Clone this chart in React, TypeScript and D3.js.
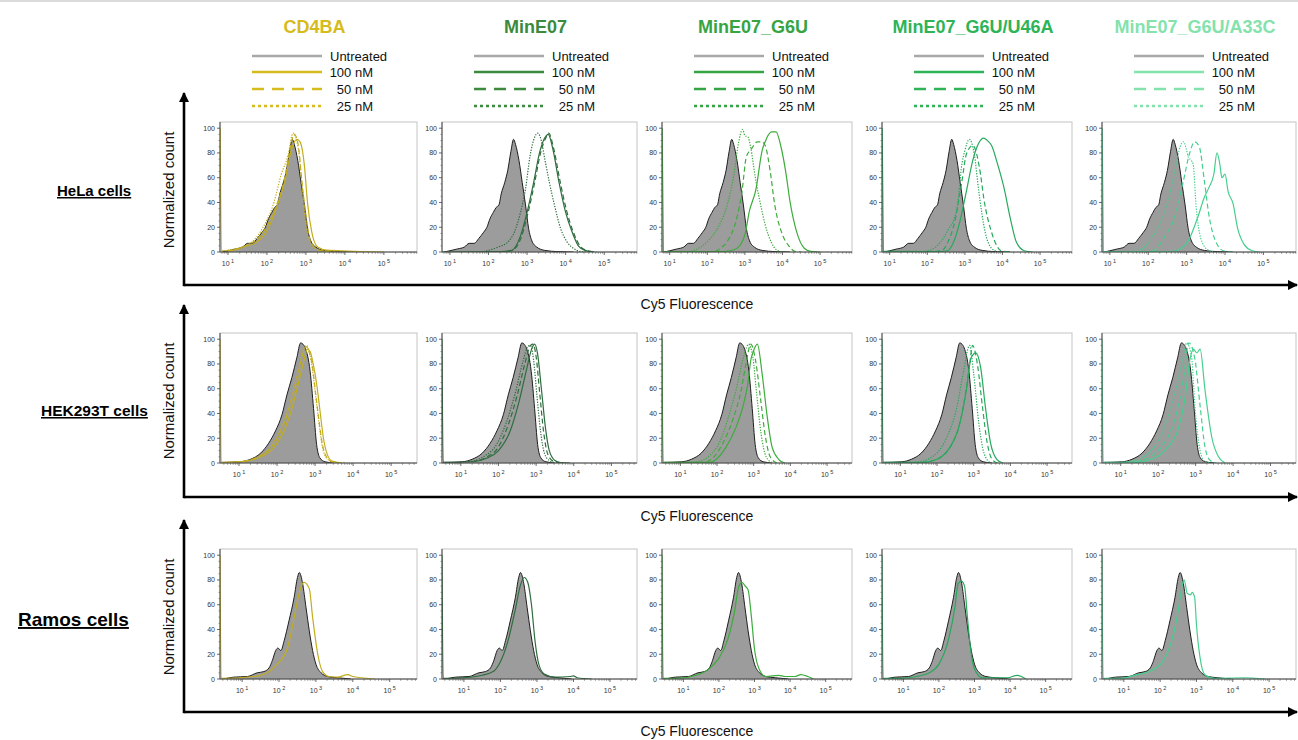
import React from "react";
import * as d3 from "d3";

type Pt = [number, number]; // [log10 Cy5 fluorescence, normalized count]

const groups = ["CD4BA", "MinE07", "MinE07_G6U", "MinE07_G6U/U46A", "MinE07_G6U/A33C"];
const titleColors = ["#d6bb1c", "#3b8a3e", "#35a443", "#2eb457", "#84e2ad"];
const curveColors = ["#c2ad1e", "#2e6e3e", "#3cac3c", "#27a95c", "#45cf8e"];
const cellLines = ["HeLa cells", "HEK293T cells", "Ramos cells"];
const doses = ["Untreated", "100 nM", "50 nM", "25 nM"];
const yTicks = [0, 20, 40, 60, 80, 100];
const decades = [1, 2, 3, 4, 5];

// ---- HeLa ----
const helaUntreated: Pt[] = [[0.85, 0], [1.0, 1], [1.2, 2.5], [1.375, 4], [1.5, 7], [1.63, 7], [1.75, 11], [1.875, 16], [1.96, 20], [2.04, 27], [2.125, 32], [2.2, 36], [2.27, 38], [2.33, 47], [2.42, 56], [2.5, 66], [2.58, 81], [2.65, 91], [2.7, 87], [2.79, 74], [2.875, 56], [2.96, 38], [3.04, 19], [3.125, 9], [3.25, 4], [3.46, 1.3], [3.8, 0.3], [4.2, 0]];
const hela_CD4BA_100: Pt[] = [[0.8, 100], [0.83, 1], [1.03, 1], [1.38, 4], [1.74, 8], [2.0, 17], [2.27, 38], [2.45, 56], [2.63, 83], [2.77, 91], [2.85, 89], [2.96, 70], [3.04, 40], [3.15, 16], [3.3, 4], [3.53, 1.5], [4.24, 0.5], [5.0, 0]];
const hela_CD4BA_50: Pt[] = [[1.0, 1], [1.47, 5], [1.9, 16], [2.27, 40], [2.45, 59], [2.58, 81], [2.7, 95], [2.8, 87], [2.9, 56], [3.0, 30], [3.12, 8], [3.35, 1.3], [3.8, 0]];
const hela_CD4BA_25: Pt[] = [[1.0, 1.5], [1.56, 7], [1.9, 20], [2.18, 40], [2.36, 62], [2.54, 78], [2.67, 96], [2.79, 86], [2.9, 54], [2.98, 27], [3.09, 9], [3.3, 2], [3.7, 0]];
const hela_MinE07_100: Pt[] = [[0.8, 0], [2.3, 0.3], [2.6, 1.3], [2.83, 13], [3.0, 32], [3.17, 56], [3.33, 81], [3.5, 94], [3.55, 95], [3.67, 83], [3.83, 56], [4.0, 32], [4.17, 16], [4.33, 5], [4.5, 1.3], [4.75, 0]];
const hela_MinE07_50: Pt[] = [[2.3, 0], [2.6, 1], [2.85, 12], [3.02, 31], [3.19, 55], [3.35, 80], [3.5, 93], [3.56, 96], [3.68, 85], [3.85, 58], [4.02, 34], [4.2, 16], [4.37, 5], [4.55, 1.2], [4.8, 0]];
const hela_MinE07_25: Pt[] = [[1.8, 0], [2.0, 1.3], [2.25, 4], [2.5, 8], [2.67, 16], [2.83, 32], [2.96, 51], [3.08, 78], [3.2, 93], [3.27, 96], [3.37, 90], [3.46, 75], [3.58, 56], [3.71, 38], [3.87, 19], [4.04, 8], [4.2, 3], [4.37, 0.5], [4.6, 0]];
const hela_G6U_100: Pt[] = [[0.8, 100], [0.83, 0.5], [2.3, 0.3], [2.6, 1], [2.79, 3], [3.0, 14], [3.12, 33], [3.29, 50], [3.46, 82], [3.58, 92], [3.71, 97], [3.83, 97], [3.96, 85], [4.08, 66], [4.21, 39], [4.37, 17], [4.58, 3], [4.75, 0.5], [5.0, 0]];
const hela_G6U_50: Pt[] = [[2.0, 0], [2.2, 0.5], [2.35, 3], [2.54, 9], [2.79, 28], [2.92, 48], [3.04, 77], [3.17, 83], [3.33, 89], [3.45, 89], [3.54, 86], [3.67, 66], [3.79, 39], [4.0, 14], [4.17, 5], [4.33, 0.5], [4.5, 0]];
const hela_G6U_25: Pt[] = [[1.5, 0], [1.87, 5], [2.05, 10], [2.29, 20], [2.54, 39], [2.71, 63], [2.83, 88], [2.94, 99], [3.0, 94], [3.08, 93], [3.15, 85], [3.29, 58], [3.42, 38], [3.54, 22], [3.7, 8], [3.83, 2], [4.0, 0]];
const hela_U46A_100: Pt[] = [[0.8, 100], [0.83, 0.5], [2.2, 0.3], [2.54, 1], [2.7, 8], [2.87, 25], [3.04, 49], [3.21, 74], [3.37, 88], [3.5, 92], [3.6, 90], [3.71, 86], [3.87, 71], [4.04, 52], [4.21, 27], [4.37, 8], [4.58, 1], [4.8, 0]];
const hela_U46A_50: Pt[] = [[2.0, 0], [2.37, 1], [2.55, 8], [2.71, 22], [2.92, 57], [3.04, 79], [3.21, 86], [3.33, 77], [3.42, 62], [3.5, 44], [3.71, 16], [3.85, 5], [3.96, 1], [4.2, 0]];
const hela_U46A_25: Pt[] = [[1.8, 0], [2.12, 2], [2.35, 8], [2.54, 17], [2.79, 35], [2.92, 71], [3.0, 82], [3.12, 91], [3.25, 79], [3.37, 49], [3.54, 16], [3.71, 3], [3.9, 0]];
const hela_A33C_100: Pt[] = [[0.8, 100], [0.83, 0.5], [2.4, 0.3], [2.71, 1], [3.04, 9], [3.29, 28], [3.46, 44], [3.58, 52], [3.71, 63], [3.79, 80], [3.86, 72], [3.92, 60], [4.0, 63], [4.08, 49], [4.21, 39], [4.33, 19], [4.5, 6], [4.71, 1], [4.9, 0]];
const hela_A33C_50: Pt[] = [[1.9, 0], [2.12, 1], [2.46, 14], [2.71, 30], [2.92, 58], [3.08, 80], [3.21, 89], [3.33, 85], [3.46, 58], [3.58, 30], [3.75, 9], [3.96, 1], [4.2, 0]];
const hela_A33C_25: Pt[] = [[1.5, 0], [1.87, 3], [2.05, 10], [2.29, 22], [2.54, 44], [2.71, 68], [2.83, 85], [2.92, 89], [3.0, 82], [3.04, 77], [3.12, 74], [3.17, 71], [3.25, 36], [3.37, 11], [3.54, 2], [3.7, 0]];

// ---- HEK293T ----
const hekUntreated: Pt[] = [[0.55, 0.5], [1.04, 1], [1.3, 3], [1.57, 8], [1.78, 16], [1.96, 26], [2.13, 39], [2.26, 55], [2.39, 69], [2.52, 85], [2.62, 97], [2.68, 96], [2.74, 93], [2.87, 74], [2.96, 44], [3.04, 15], [3.13, 4], [3.26, 1], [3.5, 0]];
const hek_CD4BA_100: Pt[] = [[0.5, 100], [0.53, 0.5], [1.0, 1], [1.5, 4], [1.9, 12], [2.2, 27], [2.4, 45], [2.55, 63], [2.7, 82], [2.8, 92], [2.87, 90], [2.95, 80], [3.05, 62], [3.13, 42], [3.22, 20], [3.32, 7], [3.45, 1.5], [3.7, 0]];
const hek_CD4BA_50: Pt[] = [[0.7, 0.5], [1.0, 1], [1.5, 5], [1.9, 15], [2.2, 33], [2.4, 52], [2.55, 70], [2.68, 88], [2.76, 94], [2.84, 90], [2.92, 80], [3.02, 55], [3.1, 35], [3.2, 14], [3.32, 4], [3.5, 0.5], [3.8, 0]];
const hek_CD4BA_25: Pt[] = [[0.7, 0.5], [1.0, 1], [1.5, 5], [1.9, 16], [2.2, 35], [2.4, 55], [2.55, 74], [2.7, 92], [2.78, 95], [2.84, 90], [2.9, 82], [3.0, 58], [3.08, 38], [3.18, 15], [3.3, 4], [3.5, 0.5], [3.8, 0]];
const hek_MinE07_100: Pt[] = [[0.5, 100], [0.53, 0.5], [1.3, 1], [1.7, 4], [2.0, 10], [2.3, 25], [2.55, 50], [2.75, 76], [2.88, 92], [2.96, 96], [3.04, 88], [3.14, 60], [3.25, 28], [3.35, 10], [3.5, 2], [3.65, 0.3], [3.9, 0]];
const hek_MinE07_50: Pt[] = [[1.3, 1], [1.7, 5], [2.0, 13], [2.25, 30], [2.5, 55], [2.7, 80], [2.85, 95], [2.92, 96], [3.0, 86], [3.1, 55], [3.2, 25], [3.3, 8], [3.45, 1.5], [3.6, 0.3]];
const hek_MinE07_25: Pt[] = [[1.2, 1], [1.6, 5], [1.95, 15], [2.2, 32], [2.45, 57], [2.65, 82], [2.78, 94], [2.85, 95], [2.93, 84], [3.02, 55], [3.12, 25], [3.22, 8], [3.35, 2], [3.5, 0.3]];
const hek_G6U_100: Pt[] = [[0.5, 100], [0.53, 0.5], [1.8, 0.5], [2.25, 13], [2.52, 29], [2.7, 45], [2.84, 64], [2.92, 83], [3.0, 91], [3.1, 96], [3.23, 72], [3.37, 37], [3.5, 13], [3.68, 3], [3.85, 0]];
const hek_G6U_50: Pt[] = [[1.5, 0.5], [1.71, 1], [2.16, 16], [2.43, 35], [2.66, 59], [2.79, 80], [2.92, 96], [3.05, 83], [3.19, 51], [3.32, 21], [3.45, 5], [3.63, 0]];
const hek_G6U_25: Pt[] = [[1.2, 0.5], [1.45, 1], [2.0, 13], [2.34, 40], [2.52, 59], [2.7, 83], [2.8, 93], [2.86, 96], [2.98, 85], [3.07, 59], [3.2, 24], [3.34, 5], [3.52, 0]];
const hek_U46A_100: Pt[] = [[0.5, 100], [0.53, 0.5], [1.6, 0.5], [2.0, 3], [2.54, 24], [2.8, 59], [2.93, 85], [3.06, 89], [3.19, 77], [3.32, 45], [3.46, 16], [3.63, 3], [3.8, 0]];
const hek_U46A_50: Pt[] = [[1.6, 0.5], [2.0, 3], [2.54, 24], [2.75, 51], [2.89, 80], [2.97, 95], [3.1, 80], [3.24, 45], [3.37, 16], [3.5, 3], [3.65, 0]];
const hek_U46A_25: Pt[] = [[1.4, 0.5], [1.75, 3], [2.27, 21], [2.54, 45], [2.71, 72], [2.89, 95], [3.0, 72], [3.14, 32], [3.28, 8], [3.46, 0]];
const hek_A33C_100: Pt[] = [[0.5, 100], [0.53, 0.5], [1.4, 0.5], [1.72, 2], [2.26, 13], [2.53, 27], [2.71, 51], [2.85, 84], [2.94, 92], [3.03, 89], [3.12, 92], [3.25, 59], [3.43, 21], [3.61, 5], [3.79, 0]];
const hek_A33C_50: Pt[] = [[1.2, 0.5], [1.54, 2], [2.08, 13], [2.44, 35], [2.67, 67], [2.82, 97], [2.98, 84], [3.12, 46], [3.25, 13], [3.39, 2], [3.55, 0]];
const hek_A33C_25: Pt[] = [[1.0, 0.5], [1.36, 2], [1.9, 13], [2.26, 37], [2.53, 67], [2.67, 86], [2.76, 97], [2.89, 86], [2.98, 46], [3.12, 10], [3.25, 1], [3.4, 0]];

// ---- Ramos ----
const ramosUntreated: Pt[] = [[0.5, 0], [0.77, 1.5], [1.14, 2], [1.41, 5], [1.59, 6], [1.73, 9], [1.82, 15], [1.91, 23], [1.97, 25], [2.05, 23], [2.14, 31], [2.27, 47], [2.41, 66], [2.5, 82], [2.55, 86], [2.64, 77], [2.73, 58], [2.82, 39], [2.91, 23], [3.0, 12], [3.14, 5], [3.32, 2], [3.59, 1], [3.95, 0]];
const ramos_CD4BA: Pt[] = [[0.4, 100], [0.43, 0.5], [1.32, 2], [1.68, 5], [1.95, 12], [2.23, 25], [2.36, 42], [2.5, 63], [2.59, 74], [2.68, 78], [2.82, 73], [2.91, 50], [3.05, 20], [3.18, 6], [3.36, 2], [3.59, 1.5], [3.86, 3.5], [4.0, 2], [4.23, 1], [4.59, 0]];
const ramos_MinE07: Pt[] = [[0.4, 100], [0.43, 0.5], [1.0, 1], [1.5, 3], [1.8, 6], [2.0, 14], [2.2, 30], [2.4, 55], [2.55, 76], [2.65, 82], [2.75, 78], [2.85, 60], [2.95, 30], [3.05, 12], [3.2, 4], [3.5, 1.5], [3.9, 2], [4.0, 2.5], [4.1, 1], [4.5, 0]];
const ramos_G6U: Pt[] = [[0.4, 100], [0.43, 0.5], [0.82, 0.5], [1.36, 3], [1.71, 8], [1.98, 16], [2.25, 32], [2.43, 53], [2.56, 75], [2.65, 78], [2.74, 75], [2.82, 72], [2.91, 51], [3.0, 24], [3.13, 8], [3.31, 2], [3.68, 3], [3.86, 2], [4.13, 2], [4.3, 3.5], [4.5, 2], [4.66, 0]];
const ramos_U46A: Pt[] = [[0.4, 100], [0.43, 0.5], [0.91, 0.5], [1.36, 2], [1.73, 5], [2.0, 12], [2.27, 32], [2.45, 58], [2.54, 77], [2.63, 79], [2.72, 75], [2.8, 50], [2.89, 24], [3.0, 8], [3.22, 1], [3.93, 1], [4.2, 3], [4.45, 0]];
const ramos_A33C: Pt[] = [[0.4, 100], [0.43, 0.5], [0.91, 0.5], [1.36, 3.5], [1.71, 6], [2.07, 14], [2.29, 28], [2.48, 52], [2.62, 77], [2.66, 80], [2.75, 69], [2.84, 68], [2.88, 70], [2.95, 66], [3.0, 44], [3.1, 17], [3.23, 3.5], [3.5, 0.5], [4.3, 1], [4.9, 0]];

const untreatedByRow = [helaUntreated, hekUntreated, ramosUntreated];
const treatedByRow: Pt[][][][] = [
  [
    [hela_CD4BA_100, hela_CD4BA_50, hela_CD4BA_25],
    [hela_MinE07_100, hela_MinE07_50, hela_MinE07_25],
    [hela_G6U_100, hela_G6U_50, hela_G6U_25],
    [hela_U46A_100, hela_U46A_50, hela_U46A_25],
    [hela_A33C_100, hela_A33C_50, hela_A33C_25],
  ],
  [
    [hek_CD4BA_100, hek_CD4BA_50, hek_CD4BA_25],
    [hek_MinE07_100, hek_MinE07_50, hek_MinE07_25],
    [hek_G6U_100, hek_G6U_50, hek_G6U_25],
    [hek_U46A_100, hek_U46A_50, hek_U46A_25],
    [hek_A33C_100, hek_A33C_50, hek_A33C_25],
  ],
  [[ramos_CD4BA], [ramos_MinE07], [ramos_G6U], [ramos_U46A], [ramos_A33C]],
];

// layout
const panelX = [220, 442, 662, 882, 1102];
const panelW = [197, 195, 190, 190, 194];
const rowTop = [122, 333, 549];
const plotH = 130;
const rowDomain: [number, number][] = [[0.795, 5.85], [0.5, 5.68], [0.4, 5.74]];
const rowLabelX = [57, 41, 18];
const rowLabelY = [196, 416, 626];
const rowLabelSize = [15, 15.5, 19];
const arrowTop = [93, 305, 520];
const arrowBottom = [285, 497, 712];
const legendY = [56, 72, 89, 106];

const font = "'Liberation Sans', Arial, Helvetica, sans-serif";
const plotDash = ["", "5,3", "1.3,1.4"];
const legendDash = ["", "", "12,8", "3,3"];

function Panel({ row, col }: { row: number; col: number }) {
  const x0 = panelX[col];
  const w = panelW[col];
  const top = rowTop[row];
  const bottom = top + plotH;
  const [lo, hi] = rowDomain[row];
  const x = d3.scaleLinear().domain([lo, hi]).range([x0, x0 + w]);
  const y = d3.scaleLinear().domain([0, 105]).range([bottom, top]);
  const line = d3.line<Pt>().x((d) => x(d[0])).y((d) => y(d[1])).curve(d3.curveMonotoneX);
  const area = d3.area<Pt>().x((d) => x(d[0])).y0(y(0)).y1((d) => y(d[1])).curve(d3.curveMonotoneX);
  const clipId = `clip-${row}-${col}`;

  const minor: number[] = [];
  for (let k = Math.floor(lo); k <= Math.ceil(hi); k++) {
    for (let m = 2; m <= 9; m++) {
      const v = k + Math.log10(m);
      if (v > lo && v < hi) minor.push(v);
    }
  }
  const yMinor = d3.range(0, 101, 5).filter((v) => v % 20 !== 0);
  const treated = treatedByRow[row][col];
  const untreated = untreatedByRow[row];

  return (
    <g>
      <defs>
        <clipPath id={clipId}>
          <rect x={x0} y={top} width={w} height={plotH} />
        </clipPath>
      </defs>
      <rect x={x0} y={top} width={w} height={plotH} fill="#fff" stroke="#c4c4c4" strokeWidth={1} />
      <g clipPath={`url(#${clipId})`}>
        <path d={area(untreated) ?? ""} fill="#9c9c9c" />
        <path d={line(untreated) ?? ""} fill="none" stroke="#1e1e1e" strokeWidth={1} />
        {treated.map((c, i) => (
          <path
            key={i}
            d={line(c) ?? ""}
            fill="none"
            stroke={curveColors[col]}
            strokeWidth={1.2}
            strokeDasharray={plotDash[i]}
          />
        ))}
      </g>
      {/* y axis */}
      <line x1={x0} x2={x0} y1={top} y2={bottom} stroke="#444" strokeWidth={1} />
      {yMinor.map((v) => (
        <line key={"ym" + v} x1={x0 - 1.5} x2={x0} y1={y(v)} y2={y(v)} stroke="#555" strokeWidth={0.6} />
      ))}
      {yTicks.map((v) => (
        <g key={"y" + v}>
          <line x1={x0 - 3} x2={x0} y1={y(v)} y2={y(v)} stroke="#444" strokeWidth={0.8} />
          <text x={x0 - 5} y={y(v) + 2.5} fontSize={7} textAnchor="end" fill="#333">
            {v}
          </text>
        </g>
      ))}
      {/* x axis */}
      <line x1={x0} x2={x0 + w} y1={bottom} y2={bottom} stroke="#444" strokeWidth={1} />
      {minor.map((v, i) => (
        <line key={"xm" + i} x1={x(v)} x2={x(v)} y1={bottom} y2={bottom + 1.8} stroke="#555" strokeWidth={0.6} />
      ))}
      {decades.map((k) => (
        <g key={"x" + k}>
          <line x1={x(k)} x2={x(k)} y1={bottom} y2={bottom + 3} stroke="#444" strokeWidth={0.8} />
          <text x={x(k)} y={bottom + 14} fontSize={7} textAnchor="middle" fill="#333">
            10
            <tspan dx={1.5} dy={-3} fontSize={5.5}>
              {k}
            </tspan>
          </text>
        </g>
      ))}
    </g>
  );
}

function Legend({ col }: { col: number }) {
  const x0 = panelX[col];
  const colors = ["#a8a8a8", titleColors[col], titleColors[col], titleColors[col]];
  return (
    <g>
      {doses.map((d, i) => (
        <g key={d}>
          <line
            x1={x0 + 32}
            x2={x0 + 102}
            y1={legendY[i]}
            y2={legendY[i]}
            stroke={colors[i]}
            strokeWidth={2.6}
            strokeDasharray={legendDash[i]}
          />
          <text
            x={i === 0 ? x0 + 110 : x0 + 153}
            y={legendY[i] + 4.5}
            fontSize={13}
            textAnchor={i === 0 ? "start" : "end"}
            fill="#111"
          >
            {d}
          </text>
        </g>
      ))}
    </g>
  );
}

export default function App() {
  const W = 1298;
  const H = 740;
  return (
    <svg
      width={W}
      height={H}
      viewBox={`0 0 ${W} ${H}`}
      style={{ position: "absolute", left: 0, top: 0, background: "#fff" }}
      fontFamily={font}
    >
      <defs>
        <marker id="arrow" viewBox="0 0 10 10" refX="9" refY="5" markerWidth="4" markerHeight="4" orient="auto">
          <path d="M0,0 L10,5 L0,10 z" fill="#000" />
        </marker>
      </defs>
      <line x1={0} x2={W} y1={1} y2={1} stroke="#cfcfcf" strokeWidth={1.5} />

      {groups.map((g, col) => (
        <g key={g}>
          <text
            x={panelX[col] + panelW[col] / 2 - 4}
            y={33}
            fontSize={18}
            fontWeight="bold"
            textAnchor="middle"
            fill={titleColors[col]}
          >
            {g}
          </text>
          <Legend col={col} />
        </g>
      ))}

      {cellLines.map((c, row) => {
        const mid = rowTop[row] + plotH / 2 + 3;
        return (
          <g key={c}>
            <text
              x={rowLabelX[row]}
              y={rowLabelY[row]}
              fontSize={rowLabelSize[row]}
              fontWeight="bold"
              textDecoration="underline"
              fill="#000"
            >
              {c}
            </text>
            <text
              transform={`translate(174,${mid}) rotate(-90)`}
              fontSize={15}
              textAnchor="middle"
              fill="#111"
            >
              Normalized count
            </text>
            <line
              x1={184}
              x2={184}
              y1={arrowBottom[row] + 1.2}
              y2={arrowTop[row]}
              stroke="#000"
              strokeWidth={2.6}
              markerEnd="url(#arrow)"
            />
            <line
              x1={184}
              x2={W - 1}
              y1={arrowBottom[row]}
              y2={arrowBottom[row]}
              stroke="#000"
              strokeWidth={2.6}
              markerEnd="url(#arrow)"
            />
            <text x={697} y={arrowBottom[row] + 24} fontSize={14} textAnchor="middle" fill="#111">
              Cy5 Fluorescence
            </text>
            {groups.map((g, col) => (
              <Panel key={g} row={row} col={col} />
            ))}
          </g>
        );
      })}
    </svg>
  );
}
